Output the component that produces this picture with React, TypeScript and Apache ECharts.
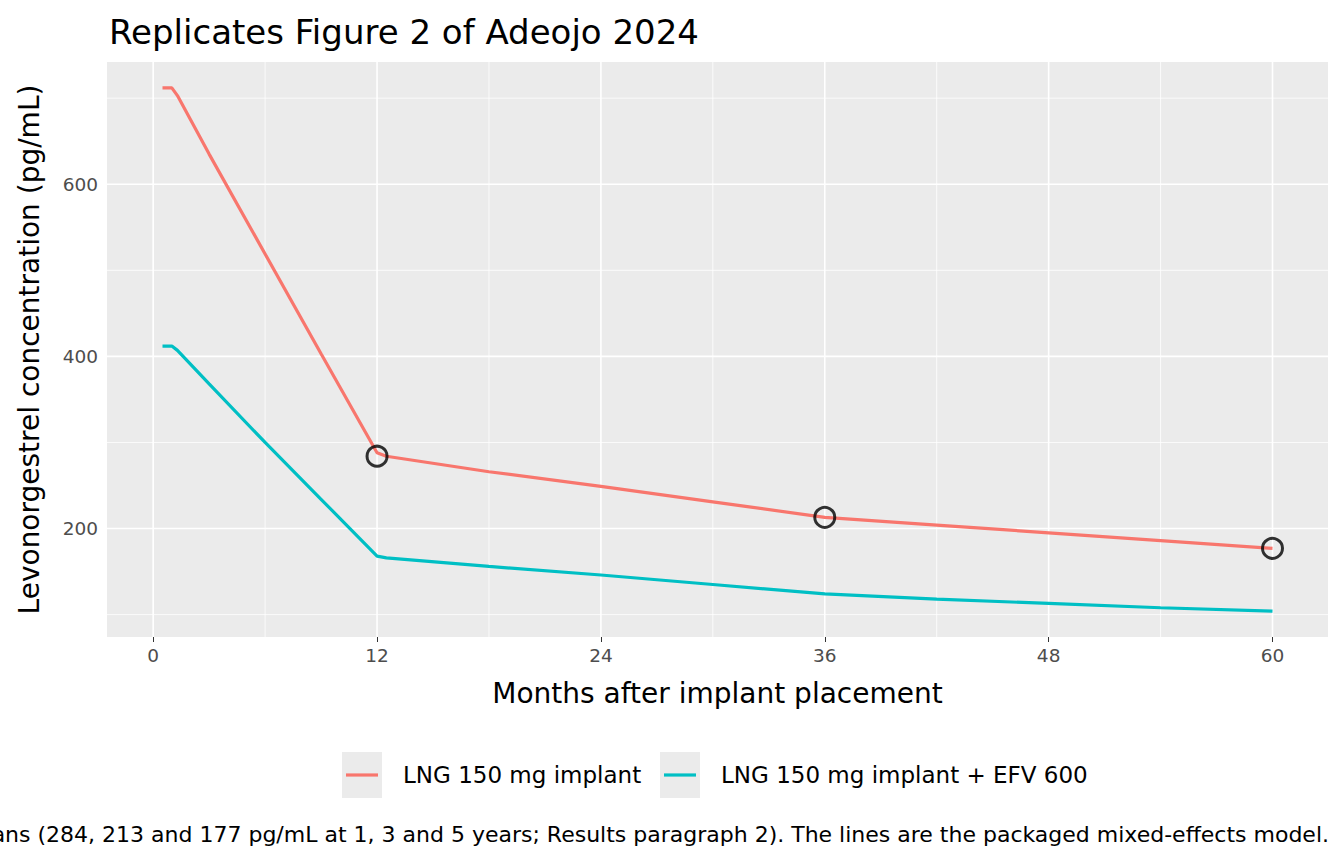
import React, { useEffect, useRef } from "react";
import * as echarts from "echarts";

const months = [0.5, 1, 1.3, 3, 6, 9, 12, 12.5, 18, 24, 30, 36, 42, 48, 54, 60];
const lngAlone = [712, 712, 703, 635, 519, 403, 288, 284, 266, 249, 231, 213, 204, 195, 186, 177];
const lngEfv = [412, 412, 407, 368, 300, 234, 168, 166, 156, 146, 135, 124, 118, 113, 108, 104];
const obsMonths = [12, 36, 60];
const obsValues = [284, 213, 177];
const xTicks = [0, 12, 24, 36, 48, 60];
const xMinor = [6, 18, 30, 42, 54];
const yTicks = [200, 400, 600];
const yMinor = [100, 300, 500, 700];
const XMIN = -2.475, XMAX = 62.975, YMIN = 74, YMAX = 742;

export default function App() {
  const ref = useRef<HTMLDivElement>(null);
  useEffect(() => {
    const chart = echarts.init(ref.current!, null, { renderer: "svg" });
    const gridLines = [
      ...xTicks.map((v) => ["x", v, 1.6]),
      ...xMinor.map((v) => ["x", v, 0.8]),
      ...yTicks.map((v) => ["y", v, 1.6]),
      ...yMinor.map((v) => ["y", v, 0.8]),
    ];
    const font = "DejaVu Sans";
    chart.setOption({
      animation: false,
      textStyle: { fontFamily: font },
      title: { text: "Replicates Figure 2 of Adeojo 2024", left: 104, top: 10, textStyle: { fontSize: 34, fontWeight: "normal", color: "#000", fontFamily: font } },
      grid: { left: 107, right: 16, top: 62, bottom: 227, show: true, backgroundColor: "#EBEBEB", borderWidth: 0 },
      xAxis: {
        type: "value", min: XMIN, max: XMAX,
        name: "Months after implant placement", nameLocation: "middle", nameGap: 42,
        nameTextStyle: { fontSize: 28, color: "#000", fontFamily: font },
        axisLine: { show: false },
        axisTick: { show: true, length: 5, lineStyle: { color: "#333" }, customValues: xTicks },
        axisLabel: { customValues: xTicks, color: "#4D4D4D", fontSize: 18.5, margin: 9, fontFamily: font },
        splitLine: { show: false },
      },
      yAxis: {
        type: "value", min: YMIN, max: YMAX,
        name: "Levonorgestrel concentration (pg/mL)", nameLocation: "middle", nameGap: 64,
        nameTextStyle: { fontSize: 28, color: "#000", fontFamily: font },
        axisLine: { show: false },
        axisTick: { show: true, length: 5, lineStyle: { color: "#333" }, customValues: yTicks },
        axisLabel: { customValues: yTicks, color: "#4D4D4D", fontSize: 18.5, margin: 9, fontFamily: font },
        splitLine: { show: false },
      },
      series: [
        {
          type: "custom", silent: true, z: 1, data: gridLines,
          renderItem: (params: any, api: any) => {
            const d = gridLines[params.dataIndex];
            const w = d[2] as number;
            if (d[0] === "x") {
              const a = api.coord([d[1], YMIN]), b = api.coord([d[1], YMAX]);
              return { type: "line", shape: { x1: a[0], y1: a[1], x2: b[0], y2: b[1] }, style: { stroke: "#fff", lineWidth: w } };
            }
            const a = api.coord([XMIN, d[1]]), b = api.coord([XMAX, d[1]]);
            return { type: "line", shape: { x1: a[0], y1: a[1], x2: b[0], y2: b[1] }, style: { stroke: "#fff", lineWidth: w } };
          },
        },
        { type: "line", name: "LNG 150 mg implant", data: months.map((m, i) => [m, lngAlone[i]]), showSymbol: false, lineStyle: { color: "#F8766D", width: 3.2 }, z: 3 },
        { type: "line", name: "LNG 150 mg implant + EFV 600", data: months.map((m, i) => [m, lngEfv[i]]), showSymbol: false, lineStyle: { color: "#00BFC4", width: 3.2 }, z: 3 },
        { type: "scatter", data: obsMonths.map((m, i) => [m, obsValues[i]]), symbol: "circle", symbolSize: 20, itemStyle: { color: "transparent", borderColor: "#000", borderWidth: 3 }, z: 4 },
      ],
      graphic: [
        { type: "rect", shape: { x: 342, y: 752, width: 40, height: 46 }, style: { fill: "#EBEBEB" } },
        { type: "line", shape: { x1: 346, y1: 775, x2: 378, y2: 775 }, style: { stroke: "#F8766D", lineWidth: 3.2 } },
        { type: "text", x: 403, y: 775, style: { text: "LNG 150 mg implant", fontSize: 23, fill: "#000", verticalAlign: "middle", fontFamily: font } },
        { type: "rect", shape: { x: 660, y: 752, width: 40, height: 46 }, style: { fill: "#EBEBEB" } },
        { type: "line", shape: { x1: 664, y1: 775, x2: 696, y2: 775 }, style: { stroke: "#00BFC4", lineWidth: 3.2 } },
        { type: "text", x: 721, y: 775, style: { text: "LNG 150 mg implant + EFV 600", fontSize: 23, fill: "#000", verticalAlign: "middle", fontFamily: font } },
        { type: "text", x: 1329, y: 834, style: { text: "Points are published medians (284, 213 and 177 pg/mL at 1, 3 and 5 years; Results paragraph 2). The lines are the packaged mixed-effects model.", fontSize: 22, fill: "#000", align: "right", verticalAlign: "middle", fontFamily: font } },
      ],
    });
    return () => chart.dispose();
  }, []);
  return <div ref={ref} style={{ width: 1344, height: 864, position: "absolute", left: 0, top: 0 }} />;
}
